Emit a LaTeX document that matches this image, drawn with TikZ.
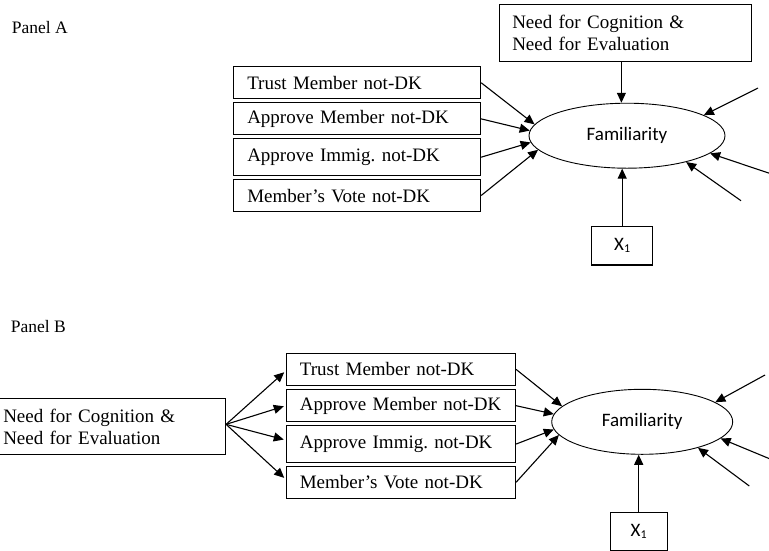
\documentclass[tikz,border=0pt]{standalone}
\usepackage{fontspec}
\setmainfont{Liberation Serif}
\newfontfamily\calfont{Carlito}
\usetikzlibrary{arrows.meta,shapes.geometric}
\frenchspacing
\begin{document}
\begin{tikzpicture}[x=1pt,y=-1pt,
  lbl/.style={anchor=base west,inner sep=0pt,font=\fontsize{17.5}{21}\selectfont},
  varbox/.style={draw,line width=1.1pt,anchor=north west,align=left,inner ysep=0pt,font=\frenchspacing\fontsize{19}{22}\selectfont},
  leftA/.style={varbox,inner xsep=13.4pt,text width=219.9pt},
  midB/.style={varbox,inner xsep=13.6pt,text width=202.1pt},
  latent/.style={draw,ellipse,line width=0.9pt,inner sep=0pt,minimum height=65pt,font=\calfont\fontsize{19}{22}\selectfont},
  xbox/.style={draw,line width=1.1pt,inner sep=0pt,minimum height=38.3pt,font=\calfont\fontsize{19}{22}\selectfont},
  arr/.style={line width=1.1pt,-{Triangle[length=10pt,width=9pt]}}
]
\useasboundingbox (0,0) rectangle (769,550);

% ---------------- Panel A ----------------
\node[lbl] (panA) at (11.7,33.3) {Panel A};

\node[varbox,inner xsep=12.7pt,text width=226.3pt,minimum height=56.7pt] (ncA) at (499,4)
  {Need for Cognition \&\\Need for Evaluation};

\node[leftA,minimum height=32.3pt] (a1) at (233.3,66) {Trust Member not-DK};
\node[leftA,minimum height=32pt]   (a2) at (233.3,102.3) {Approve Member not-DK};
\node[leftA,minimum height=36.7pt] (a3) at (233.3,138.3) {Approve Immig.\ not-DK};
\node[leftA,minimum height=32pt]   (a4) at (233.3,179) {Member’s Vote not-DK};

\node[latent,minimum width=196pt] (famA) at (627,135.7) {Familiarity};

\node[xbox,minimum width=61pt] (xA) at (622.2,245.85) {X\raisebox{-2pt}{\fontsize{12}{12}\selectfont 1}};

\coordinate (rA1) at (758,88);
\coordinate (rA2) at (776,175.5);
\coordinate (rA3) at (741,200.7);

\draw[arr] (a1.east) -- (famA.173);
\draw[arr] (a2.east) -- (famA.177.7);
\draw[arr] (a3.east) -- (famA.184.8);
\draw[arr] (a4.east) -- (famA.189.7);
\draw[arr] ([xshift=-4pt]ncA.south) -- ([xshift=-4pt]ncA.south |- famA.north);
\draw[arr] (xA.north) -- (xA.north |- famA.south);
\draw[arr] (rA1) -- (famA.15);
\draw[arr] (rA2) -- (famA.-12.9);
\draw[arr] (rA3) -- (famA.-24.6);

% ---------------- Panel B ----------------
\node[lbl] (panB) at (10.7,332.3) {Panel B};

\node[varbox,inner xsep=5.7pt,text width=216.6pt,minimum height=56pt] (ncB) at (-3,398.3)
  {Need for Cognition \&\\Need for Evaluation};

\node[midB,minimum height=32.3pt] (b1) at (285.7,352.7) {Trust Member not-DK};
\node[midB,minimum height=31.7pt] (b2) at (285.7,389.3) {Approve Member not-DK};
\node[midB,minimum height=36.4pt] (b3) at (285.7,425.3) {Approve Immig.\ not-DK};
\node[midB,minimum height=32pt]   (b4) at (285.7,465.7) {Member’s Vote not-DK};

\node[latent,minimum width=181pt] (famB) at (642.2,421.8) {Familiarity};

\node[xbox,minimum width=57.3pt] (xB) at (638.7,531.85) {X\raisebox{-2pt}{\fontsize{12}{12}\selectfont 1}};

\coordinate (rB1) at (765,375);
\coordinate (rB2) at (775,461);
\coordinate (rB3) at (749.3,486);

\draw[arr,shorten >=2pt] ([yshift=2.5pt]ncB.east) -- ([yshift=-1.5pt]b1.west);
\draw[arr,shorten >=2pt] ([yshift=2.5pt]ncB.east) -- (b2.west);
\draw[arr,shorten >=2pt] ([yshift=2.5pt]ncB.east) -- ([yshift=4pt]b3.west);
\draw[arr,shorten >=2pt] ([yshift=2.5pt]ncB.east) -- ([yshift=3pt]b4.west);

\draw[arr] (b1.east) -- (famB.169.6);
\draw[arr] (b2.east) -- (famB.175.6);
\draw[arr] (b3.east) -- (famB.185);
\draw[arr] (b4.east) -- (famB.189.6);
\draw[arr] (xB.north) -- (xB.north |- famB.south);
\draw[arr] (rB1) -- (famB.15.6);
\draw[arr] (rB2) -- (famB.-12.7);
\draw[arr] (rB3) -- (famB.-25.7);
\end{tikzpicture}
\end{document}
